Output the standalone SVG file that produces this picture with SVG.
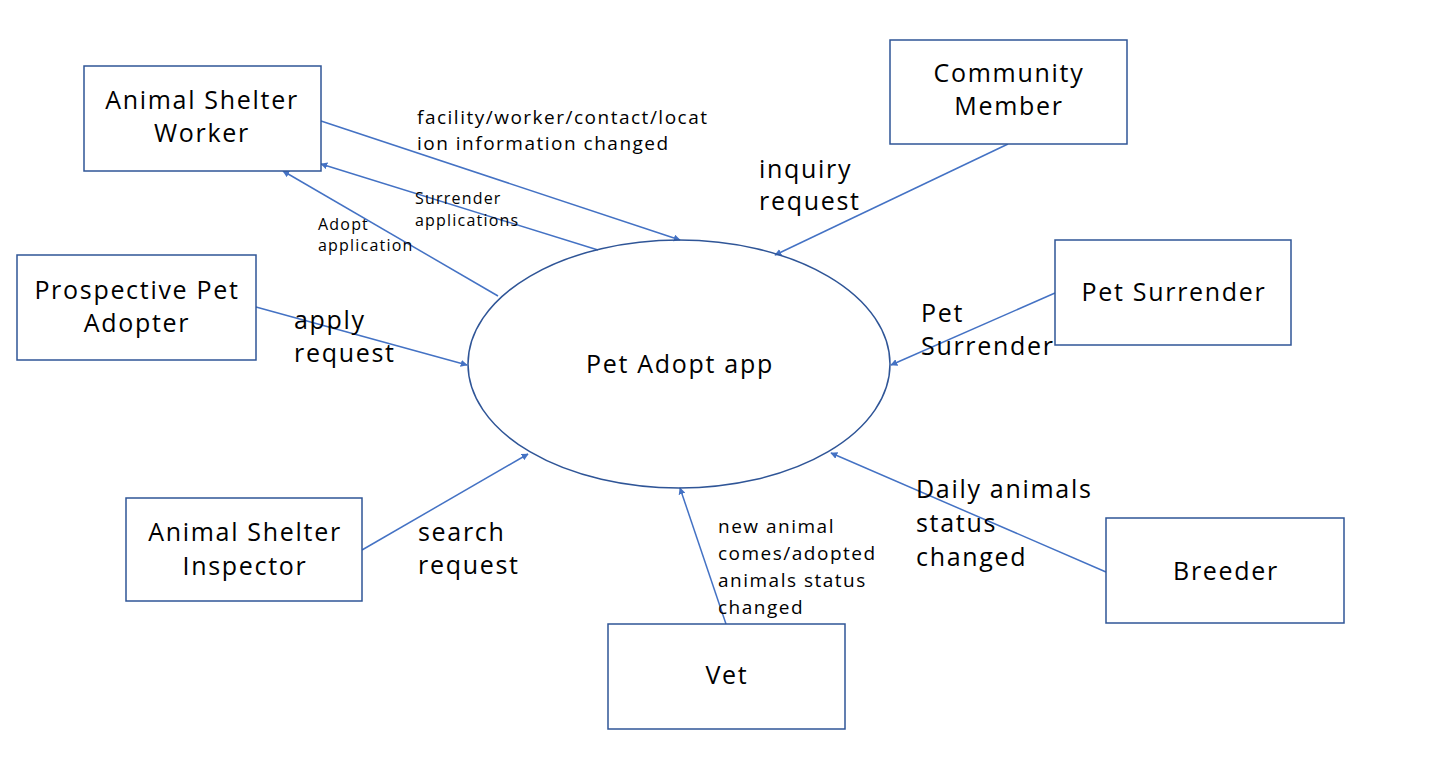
<svg xmlns="http://www.w3.org/2000/svg" width="1448" height="784" viewBox="0 0 1448 784">
<style>
.box{fill:#fff;stroke:#2F5597;stroke-width:1.5}
.t{font-family:"Open Sans","Noto Sans","Liberation Sans",sans-serif;font-size:25px;letter-spacing:1.7px;fill:#000}
.m{font-family:"Open Sans","Noto Sans","Liberation Sans",sans-serif;font-size:19px;letter-spacing:1.5px;fill:#000}
.s{font-family:"Open Sans","Noto Sans","Liberation Sans",sans-serif;font-size:16px;letter-spacing:1.2px;fill:#000}
.c{text-anchor:middle}
.ln{stroke:#4472C4;stroke-width:1.5;fill:none;marker-end:url(#ah)}
</style>
<defs>
<marker id="ah" viewBox="0 0 10 10" refX="9" refY="5" markerWidth="7" markerHeight="7" markerUnits="userSpaceOnUse" orient="auto">
<path d="M0,0 L10,5 L0,10 z" fill="#4472C4"/>
</marker>
</defs>
<rect width="1448" height="784" fill="#fff"/>
<g id="connectors">
<line class="ln" x1="321" y1="121" x2="680" y2="240"/>
<line class="ln" x1="598" y1="250" x2="321" y2="164"/>
<line class="ln" x1="498" y1="296" x2="283" y2="171"/>
<line class="ln" x1="256" y1="307" x2="467" y2="365"/>
<line class="ln" x1="1008" y1="144" x2="775" y2="255"/>
<line class="ln" x1="1055" y1="293" x2="891" y2="365"/>
<line class="ln" x1="362" y1="550" x2="528" y2="454"/>
<line class="ln" x1="726" y1="624" x2="680" y2="488"/>
<line class="ln" x1="1106" y1="572" x2="831" y2="453"/>
</g>
<g id="labels">
<text class="m" x="417" y="124">facility/worker/contact/locat</text>
<text class="m" x="417" y="150">ion information changed</text>
<text class="s" x="415" y="204">Surrender</text>
<text class="s" x="415" y="226">applications</text>
<text class="s" x="318" y="230">Adopt</text>
<text class="s" x="318" y="251">application</text>
<text class="t" x="294" y="329">apply</text>
<text class="t" x="294" y="362">request</text>
<text class="t" x="759" y="178">inquiry</text>
<text class="t" x="759" y="210">request</text>
<text class="t" x="921" y="322">Pet</text>
<text class="t" x="921" y="355">Surrender</text>
<text class="t" x="418" y="541">search</text>
<text class="t" x="418" y="574">request</text>
<text class="m" x="718" y="533">new animal</text>
<text class="m" x="718" y="560">comes/adopted</text>
<text class="m" x="718" y="587">animals status</text>
<text class="m" x="718" y="614">changed</text>
<text class="t" x="916" y="498">Daily animals</text>
<text class="t" x="916" y="532">status</text>
<text class="t" x="916" y="566">changed</text>
</g>
<g id="app">
<ellipse cx="679" cy="364" rx="211" ry="124" fill="none" stroke="#2F5597" stroke-width="1.5"/>
<text class="t c" x="680" y="373">Pet Adopt app</text>
</g>
<g id="worker">
<rect class="box" x="84" y="66" width="237" height="105"/>
<text class="t c" x="202" y="109">Animal Shelter</text>
<text class="t c" x="202" y="142">Worker</text>
</g>
<g id="community">
<rect class="box" x="890" y="40" width="237" height="104"/>
<text class="t c" x="1009" y="82">Community</text>
<text class="t c" x="1009" y="115">Member</text>
</g>
<g id="adopter">
<rect class="box" x="17" y="255" width="239" height="105"/>
<text class="t c" x="137" y="299">Prospective Pet</text>
<text class="t c" x="137" y="332">Adopter</text>
</g>
<g id="surrender">
<rect class="box" x="1055" y="240" width="236" height="105"/>
<text class="t c" x="1174" y="301">Pet Surrender</text>
</g>
<g id="inspector">
<rect class="box" x="126" y="498" width="236" height="103"/>
<text class="t c" x="245" y="541">Animal Shelter</text>
<text class="t c" x="245" y="575">Inspector</text>
</g>
<g id="vet">
<rect class="box" x="608" y="624" width="237" height="105"/>
<text class="t c" x="727" y="684">Vet</text>
</g>
<g id="breeder">
<rect class="box" x="1106" y="518" width="238" height="105"/>
<text class="t c" x="1226" y="580">Breeder</text>
</g>
</svg>
